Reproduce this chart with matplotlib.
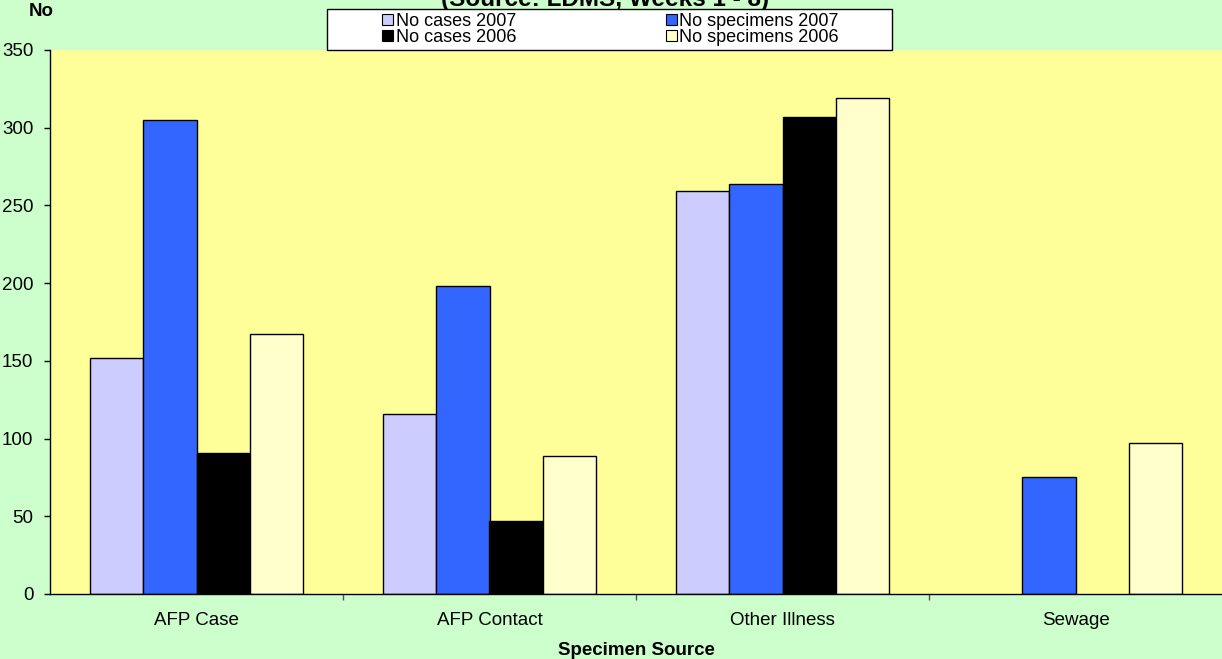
import matplotlib
matplotlib.use("Agg")
import matplotlib.pyplot as plt
from matplotlib.patches import Rectangle, Patch
import numpy as np

# Data
categories = ["AFP Case", "AFP Contact", "Other Illness", "Sewage"]
cases_2007 = [152, 116, 259, 0]
specimens_2007 = [305, 198, 264, 75]
cases_2006 = [91, 47, 307, 0]
specimens_2006 = [167, 89, 319, 97]

series = [
    ("No cases 2007", cases_2007, "#CCCCFF"),
    ("No specimens 2007", specimens_2007, "#3366FF"),
    ("No cases 2006", cases_2006, "#000000"),
    ("No specimens 2006", specimens_2006, "#FFFFCC"),
]

plt.rcParams["font.family"] = ["Liberation Sans", "DejaVu Sans"]

W, H = 1222, 659
fig = plt.figure(figsize=(W / 100, H / 100), dpi=100, facecolor="#CCFFCC")

# plot area in pixel terms
left, right, top, bottom = 50, 1222, 50, 594
ax = fig.add_axes([left / W, 1 - bottom / H, (right - left) / W, (bottom - top) / H])
ax.set_facecolor("#FFFF99")

x = np.arange(len(categories))
bw = 1 / 5.5
offsets = np.array([-1.5, -0.5, 0.5, 1.5]) * bw
for (name, vals, col), off in zip(series, offsets):
    vals = np.asarray(vals, dtype=float)
    ax.bar(x + off, vals, width=bw, color=col,
           edgecolor=["black" if v > 0 else "none" for v in vals],
           linewidth=1.0, label=name, zorder=2)

ax.set_xlim(-0.5, len(categories) - 0.5)
ax.set_ylim(0, 350)
ax.set_yticks(np.arange(0, 351, 50))
ax.set_xticks(x)
ax.set_xticklabels(categories)
ax.set_xticks(np.arange(0.5, len(categories) - 0.5, 1), minor=True)

for s in ["top", "right"]:
    ax.spines[s].set_visible(False)
for s in ["left", "bottom"]:
    ax.spines[s].set_color("black")
    ax.spines[s].set_linewidth(1.0)
    ax.spines[s].set_zorder(3)

ax.tick_params(axis="y", direction="out", length=4, width=1, pad=8,
               labelsize=13.5, colors="black")
ax.tick_params(axis="x", which="major", length=0, pad=13, labelsize=13.5)
ax.tick_params(axis="x", which="minor", direction="out", length=4, width=1,
               color="#555555")

ax.set_xlabel("Specimen Source", fontsize=13.5, fontweight="bold", labelpad=9)
fig.text(41 / W, 1 - 12 / H, "No", fontsize=13.5, fontweight="bold",
         ha="center", va="center")

# title, partly above the figure edge
fig.text(605 / W, 1 - 6 / H, "(Source: LDMS, Weeks 1 - 8)", fontsize=17.5,
         fontweight="bold", ha="center", va="baseline", zorder=3)

# legend box
box = Rectangle((327 / W, 1 - 50 / H), 565 / W, 41 / H, transform=fig.transFigure,
                facecolor="white", edgecolor="black", linewidth=1.0, zorder=4)
fig.patches.append(box)

handles = [Patch(facecolor=c, edgecolor="black", linewidth=0.8, label=n)
           for n, _, c in series]
order = [0, 2, 1, 3]
leg = fig.legend([handles[i] for i in order], [series[i][0] for i in order],
                 ncol=2, loc="center left", bbox_to_anchor=(382 / W, 1 - 29.5 / H),
                 frameon=False, fontsize=13, handlelength=0.6, handleheight=0.6,
                 handletextpad=0.15, columnspacing=8.3, labelspacing=-0.05,
                 borderpad=0, borderaxespad=0)
leg.set_zorder(5)

fig.savefig("out.png", dpi=100, facecolor=fig.get_facecolor())
